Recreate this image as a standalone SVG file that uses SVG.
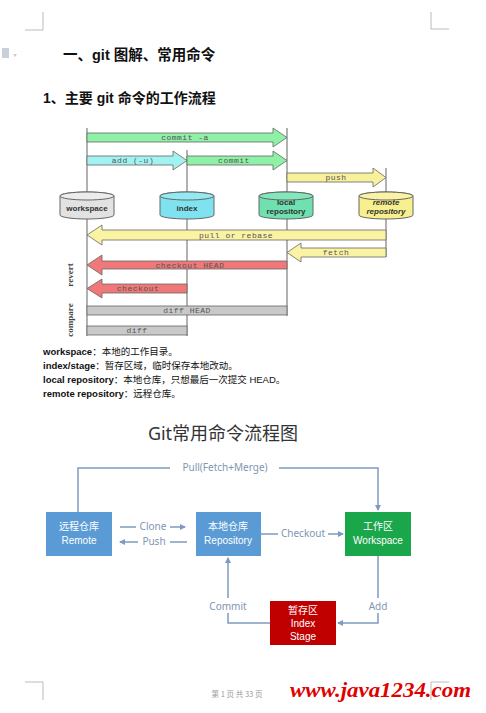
<svg xmlns="http://www.w3.org/2000/svg" width="486" height="713" viewBox="0 0 486 713">
<style>
.h{font-family:"Liberation Sans","Noto Sans CJK SC",sans-serif;font-weight:bold;fill:#111}
.mono{font-family:"Liberation Mono",monospace;font-size:8px;fill:#555;text-anchor:middle;letter-spacing:0.5px}
.cy{stroke:#666;stroke-width:1}
.cl{font-family:"Liberation Sans",sans-serif;font-weight:bold;font-size:8px;fill:#333;text-anchor:middle}
.note{font-family:"Liberation Sans","Noto Sans CJK SC",sans-serif;font-size:9.5px;fill:#111}
.vl{stroke:#888;stroke-width:1.3}
.bar{stroke:#666;stroke-width:0.8}
.bx{stroke:none}
.bt{font-family:"Liberation Sans","Noto Sans CJK SC",sans-serif;font-size:10px;fill:#fff;text-anchor:middle}
.fl{fill:none;stroke:#7d9bc1;stroke-width:1.5}
.fla{font-family:"Noto Sans",sans-serif;font-size:10px;fill:#8096b2;text-anchor:middle}
.mk{stroke:#bbb;stroke-width:1;fill:none}
</style>
<defs>
<marker id="ah" markerWidth="6" markerHeight="6" refX="5" refY="3" orient="auto" markerUnits="userSpaceOnUse">
<path d="M0,0 L6,3 L0,6 Z" fill="#7d9bc1"/>
</marker>
</defs>
<rect width="486" height="713" fill="#fff"/>

<g id="corners">
<path class="mk" d="M43,12 V30 H25"/>
<path class="mk" d="M431,12 V29 H449"/>
<path class="mk" d="M25,682 H43 V700"/>
<path class="mk" d="M449,682 H431 V700"/>
</g>
<g id="icon" fill="#c8d0dc">
<rect x="2" y="48" width="7" height="10"/>
<path d="M13,54 L17,54 L15,57 Z" fill="#ccc"/>
</g>

<text class="h" x="63" y="60" font-size="14.5">一、git 图解、常用命令</text>
<text class="h" x="43" y="103" font-size="14">1、主要 git 命令的工作流程</text>

<g id="connectors">
<line class="vl" x1="87" y1="128" x2="87" y2="336"/>
<line class="vl" x1="187" y1="150" x2="187" y2="336"/>
<line class="vl" x1="287" y1="128" x2="287" y2="316"/>
<line class="vl" x1="386" y1="168" x2="386" y2="257"/>
</g>

<g id="workspace">
<path class="cy" fill="#e2e2e2" d="M60,196 A27,4 0 0 1 114,196 V215 A27,4 0 0 1 60,215 Z"/>
<ellipse class="cy" cx="87" cy="196" rx="27" ry="4" fill="#ececec"/>
<text class="cl" x="87" y="211">workspace</text>
</g>
<g id="index">
<path class="cy" fill="#7fe3ef" d="M160,196 A27,4 0 0 1 214,196 V215 A27,4 0 0 1 160,215 Z"/>
<ellipse class="cy" cx="187" cy="196" rx="27" ry="4" fill="#93eaf3"/>
<text class="cl" x="187" y="211">index</text>
</g>
<g id="local">
<path class="cy" fill="#6fe0b0" d="M259,196 A27,4 0 0 1 313,196 V215 A27,4 0 0 1 259,215 Z"/>
<ellipse class="cy" cx="286" cy="196" rx="27" ry="4" fill="#84e6bd"/>
<text class="cl" x="286" y="205">local</text>
<text class="cl" x="286" y="214">repository</text>
</g>
<g id="remote">
<path class="cy" fill="#f8ef8e" d="M359,196 A27,4 0 0 1 413,196 V215 A27,4 0 0 1 359,215 Z"/>
<ellipse class="cy" cx="386" cy="196" rx="27" ry="4" fill="#faf3a6"/>
<text class="cl" x="386" y="205" font-style="italic">remote</text>
<text class="cl" x="386" y="214" font-style="italic">repository</text>
</g>

<g id="arrows">
<polygon class="bar" fill="#8ff0a8" points="87,133 273,133 273,128 287,137.5 273,147 273,142 87,142"/>
<text class="mono" x="185" y="140">commit -a</text>
<polygon class="bar" fill="#a2f2f2" points="87,156 173,156 173,151 187,160.5 173,170 173,165 87,165"/>
<text class="mono" x="133" y="163">add (-u)</text>
<polygon class="bar" fill="#8ff0a8" points="187,156 273,156 273,151 287,160.5 273,170 273,165 187,165"/>
<text class="mono" x="234" y="163">commit</text>
<polygon class="bar" fill="#f8f09a" points="287,173 373,173 373,168 386,177.5 373,187 373,182 287,182"/>
<text class="mono" x="336" y="180">push</text>
<polygon class="bar" fill="#faf3a4" points="386,230 102,230 102,225 87,235 102,245 102,240 386,240"/>
<text class="mono" x="236" y="238">pull or rebase</text>
<polygon class="bar" fill="#faf3a4" points="386,248 301,248 301,243 287,252.5 301,262 301,257 386,257"/>
<text class="mono" x="336" y="255">fetch</text>
<polygon class="bar" fill="#f07878" points="287,261 102,261 102,255 87,265 102,275 102,269 287,269"/>
<text class="mono" x="190" y="268" fill="#a33">checkout HEAD</text>
<polygon class="bar" fill="#f07878" points="187,284 102,284 102,279 87,288.5 102,298 102,293 187,293"/>
<text class="mono" x="138" y="291" fill="#a33">checkout</text>
<rect class="bar" x="87" y="306" width="200" height="9" fill="#c9c9c9"/>
<text class="mono" x="187" y="313">diff HEAD</text>
<rect class="bar" x="87" y="326" width="100" height="9" fill="#c9c9c9"/>
<text class="mono" x="137" y="333">diff</text>
</g>
<text x="73" y="275" transform="rotate(-90 73 275)" font-family="Liberation Serif,serif" font-size="9" font-weight="bold" fill="#444" text-anchor="middle">revert</text>
<text x="73" y="320" transform="rotate(-90 73 320)" font-family="Liberation Serif,serif" font-size="9" font-weight="bold" fill="#444" text-anchor="middle">compare</text>

<text class="note" x="43" y="355"><tspan font-weight="bold">workspace</tspan>：本地的工作目录。</text>
<text class="note" x="43" y="369"><tspan font-weight="bold">index/stage</tspan>：暂存区域，临时保存本地改动。</text>
<text class="note" x="43" y="383"><tspan font-weight="bold">local repository</tspan>：本地仓库，只想最后一次提交 HEAD。</text>
<text class="note" x="43" y="397"><tspan font-weight="bold">remote repository</tspan>：远程仓库。</text>

<text x="223" y="440" font-family="Noto Sans,Noto Sans CJK SC,sans-serif" font-size="18" fill="#333" text-anchor="middle">Git常用命令流程图</text>

<g id="flow-connectors">
<path class="fl" d="M78,512 V468 H170"/>
<path class="fl" d="M279,468 H378 V510" marker-end="url(#ah)"/>
<text class="fla" x="225" y="471">Pull(Fetch+Merge)</text>
<path class="fl" d="M120,527 H136"/>
<path class="fl" d="M170,527 H185" marker-end="url(#ah)"/>
<text class="fla" x="153" y="530">Clone</text>
<path class="fl" d="M187,542 H170"/>
<path class="fl" d="M138,542 H120" marker-end="url(#ah)"/>
<text class="fla" x="154" y="545">Push</text>
<path class="fl" d="M261,534 H278"/>
<path class="fl" d="M328,534 H343" marker-end="url(#ah)"/>
<text class="fla" x="303" y="537">Checkout</text>
<path class="fl" d="M378,556 V598"/>
<path class="fl" d="M378,613 V623 H338" marker-end="url(#ah)"/>
<text class="fla" x="378" y="610">Add</text>
<path class="fl" d="M270,623 H228 V613"/>
<path class="fl" d="M228,598 V558" marker-end="url(#ah)"/>
<text class="fla" x="228" y="610">Commit</text>
</g>

<g id="remote-box">
<rect class="bx" x="46" y="512" width="66" height="44" fill="#5b9bd5"/>
<text class="bt" x="79" y="530">远程仓库</text>
<text class="bt" x="79" y="544">Remote</text>
</g>
<g id="repo-box">
<rect class="bx" x="196" y="512" width="65" height="44" fill="#5b9bd5"/>
<text class="bt" x="228" y="530">本地仓库</text>
<text class="bt" x="228" y="544">Repository</text>
</g>
<g id="workspace-box">
<rect class="bx" x="345" y="512" width="66" height="44" fill="#1aa64a"/>
<text class="bt" x="378" y="530">工作区</text>
<text class="bt" x="378" y="544">Workspace</text>
</g>
<g id="index-box">
<rect class="bx" x="270" y="601" width="66" height="44" fill="#c00000"/>
<text class="bt" x="303" y="614">暂存区</text>
<text class="bt" x="303" y="627">Index</text>
<text class="bt" x="303" y="640">Stage</text>
</g>

<text x="237" y="697" font-family="Noto Sans CJK SC,sans-serif" font-size="7.5" fill="#999" text-anchor="middle">第 1 页 共 33 页</text>
<text x="290" y="697" font-family="Liberation Serif,serif" font-size="20" font-weight="bold" font-style="italic" fill="#e00000" textLength="181" lengthAdjust="spacingAndGlyphs">www.java1234.com</text>
</svg>
